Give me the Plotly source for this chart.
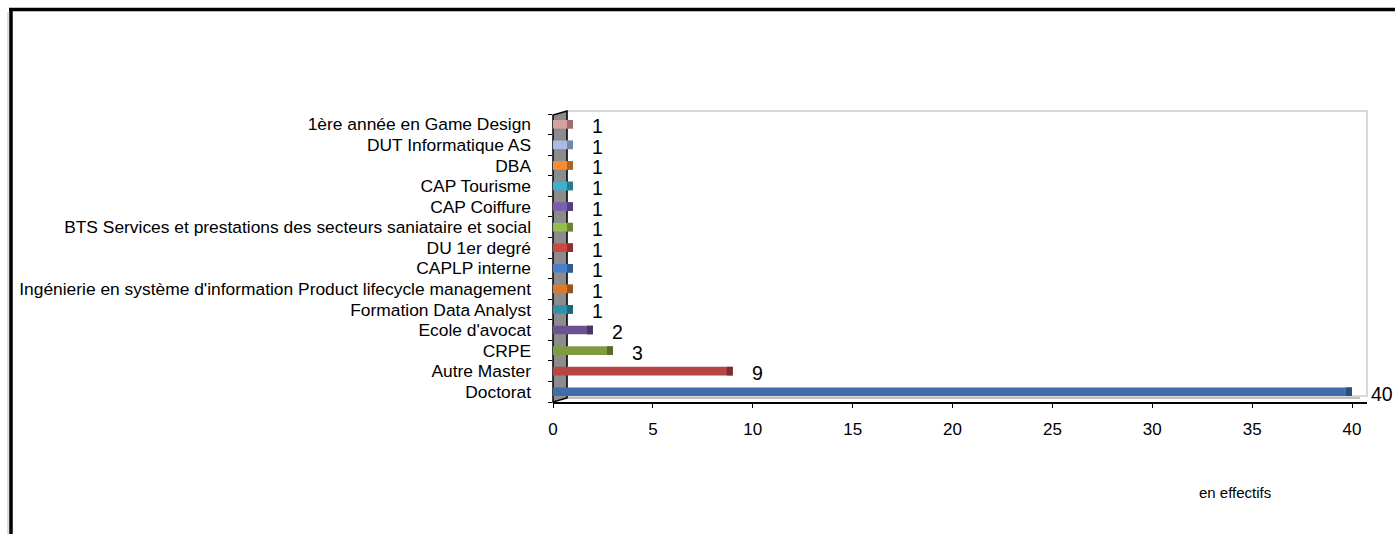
import plotly.graph_objects as go

categories = [
    "Doctorat", "Autre Master", "CRPE", "Ecole d'avocat", "Formation Data Analyst",
    "Ingénierie en système d'information Product lifecycle management",
    "CAPLP interne", "DU 1er degré",
    "BTS Services et prestations des secteurs saniataire et social",
    "CAP Coiffure", "CAP Tourisme", "DBA", "DUT Informatique AS",
    "1ère année en Game Design",
]
values = [40, 9, 3, 2, 1, 1, 1, 1, 1, 1, 1, 1, 1, 1]
bar_colors = [
    "#3F6DA8", "#B54643", "#7F9C45", "#6B5290", "#2F93A8", "#D97A2E",
    "#4A7FCB", "#CB4744", "#94BD4C", "#7C5DB0", "#3DB0CC", "#F78C35",
    "#A9BDE0", "#D9A0A0",
]
cap_colors = [
    "#2B4E7C", "#7E2E2C", "#566B2D", "#483663", "#1F6575", "#9A5420",
    "#33598F", "#8E302E", "#678534", "#563F7C", "#2A7B8F", "#AD6225",
    "#7487A8", "#A06E6E",
]
x_ticks = [0, 5, 10, 15, 20, 25, 30, 35, 40]
unit_note = "en effectifs"

W, H = 1395, 534
L, R, T, B = 553, 28, 114, 132
XMAX = 40.75
pw = W - L - R
ph = H - T - B
FONT = "Liberation Sans, Arial"

fig = go.Figure()
fig.add_trace(go.Bar(
    y=categories, x=values, orientation="h", width=0.42,
    marker=dict(color=bar_colors, line=dict(width=0)),
    hoverinfo="x+y", showlegend=False,
))
cap = 0.3
fig.add_trace(go.Bar(
    y=categories, x=[cap] * len(values), base=[v - cap for v in values],
    orientation="h", width=0.42,
    marker=dict(color=cap_colors, line=dict(width=0)),
    hoverinfo="skip", showlegend=False,
))

for c, v in zip(categories, values):
    fig.add_annotation(
        x=v, y=c, text=str(v), showarrow=False, xanchor="left",
        xshift=17, yshift=-2,
        font=dict(family=FONT, size=19.5, color="black"),
    )

def px_x(px):
    return (px - L) / pw

def px_y(py):
    return (H - B - py) / ph

fig.add_annotation(
    xref="paper", yref="paper",
    x=px_x(1235), y=px_y(492),
    text=unit_note, showarrow=False, xanchor="center", yanchor="middle",
    font=dict(family=FONT, size=15, color="black"),
)

shapes = []
# back wall (light grey frame)
shapes.append(dict(type="rect", xref="paper", yref="paper",
                   x0=px_x(567), x1=px_x(1367), y0=px_y(396), y1=px_y(111),
                   line=dict(color="#D9D9D9", width=2), fillcolor="rgba(0,0,0,0)",
                   layer="below"))
# floor line
shapes.append(dict(type="line", xref="paper", yref="paper",
                   x0=px_x(556), x1=px_x(1360), y0=px_y(398), y1=px_y(398),
                   line=dict(color="#BFBFBF", width=2), layer="below"))
# left side wall
shapes.append(dict(type="path", xref="paper", yref="paper",
                   path=f"M {px_x(553)},{px_y(402)} L {px_x(553)},{px_y(115)} "
                        f"L {px_x(567)},{px_y(111)} L {px_x(567)},{px_y(398)} Z",
                   fillcolor="#8C8C8C", line=dict(color="black", width=1.5),
                   layer="below"))
# outer frame (top and left black lines)
shapes.append(dict(type="line", xref="paper", yref="paper",
                   x0=px_x(9), x1=px_x(W + 5), y0=px_y(9.5), y1=px_y(9.5),
                   line=dict(color="black", width=3.5)))
shapes.append(dict(type="line", xref="paper", yref="paper",
                   x0=px_x(11), x1=px_x(11), y0=px_y(8), y1=px_y(H + 5),
                   line=dict(color="black", width=3.5)))
shapes.append(dict(type="line", xref="paper", yref="paper",
                   x0=px_x(8), x1=px_x(8), y0=px_y(12), y1=px_y(H + 5),
                   line=dict(color="#BBBBBB", width=1)))

fig.update_layout(
    width=W, height=H,
    margin=dict(l=L, r=R, t=T, b=B, pad=0),
    paper_bgcolor="white", plot_bgcolor="white",
    barmode="overlay", bargap=0.5,
    shapes=shapes,
    font=dict(family=FONT, color="black"),
    xaxis=dict(
        range=[0, XMAX], tickvals=x_ticks, ticktext=[str(t) for t in x_ticks],
        showgrid=False, zeroline=False,
        showline=True, linecolor="black", linewidth=2,
        ticks="outside", ticklen=4, tickcolor="black", tickwidth=1,
        ticklabelstandoff=7,
        tickfont=dict(size=17, family=FONT),
        fixedrange=True,
    ),
    yaxis=dict(
        categoryorder="array", categoryarray=categories,
        range=[-0.5, len(categories) - 0.5],
        tickmode="linear", tick0=0, dtick=1,
        showgrid=False, zeroline=False,
        showline=False,
        ticks="outside", ticklen=4, tickcolor="black", tickwidth=1,
        tickson="boundaries",
        ticklabelstandoff=21,
        tickfont=dict(size=17.4, family=FONT),
        fixedrange=True,
    ),
)

fig.write_html(
    "out.html",
    config={"displayModeBar": False},
    post_script="document.body.style.margin='0';document.body.style.overflow='hidden';",
)
